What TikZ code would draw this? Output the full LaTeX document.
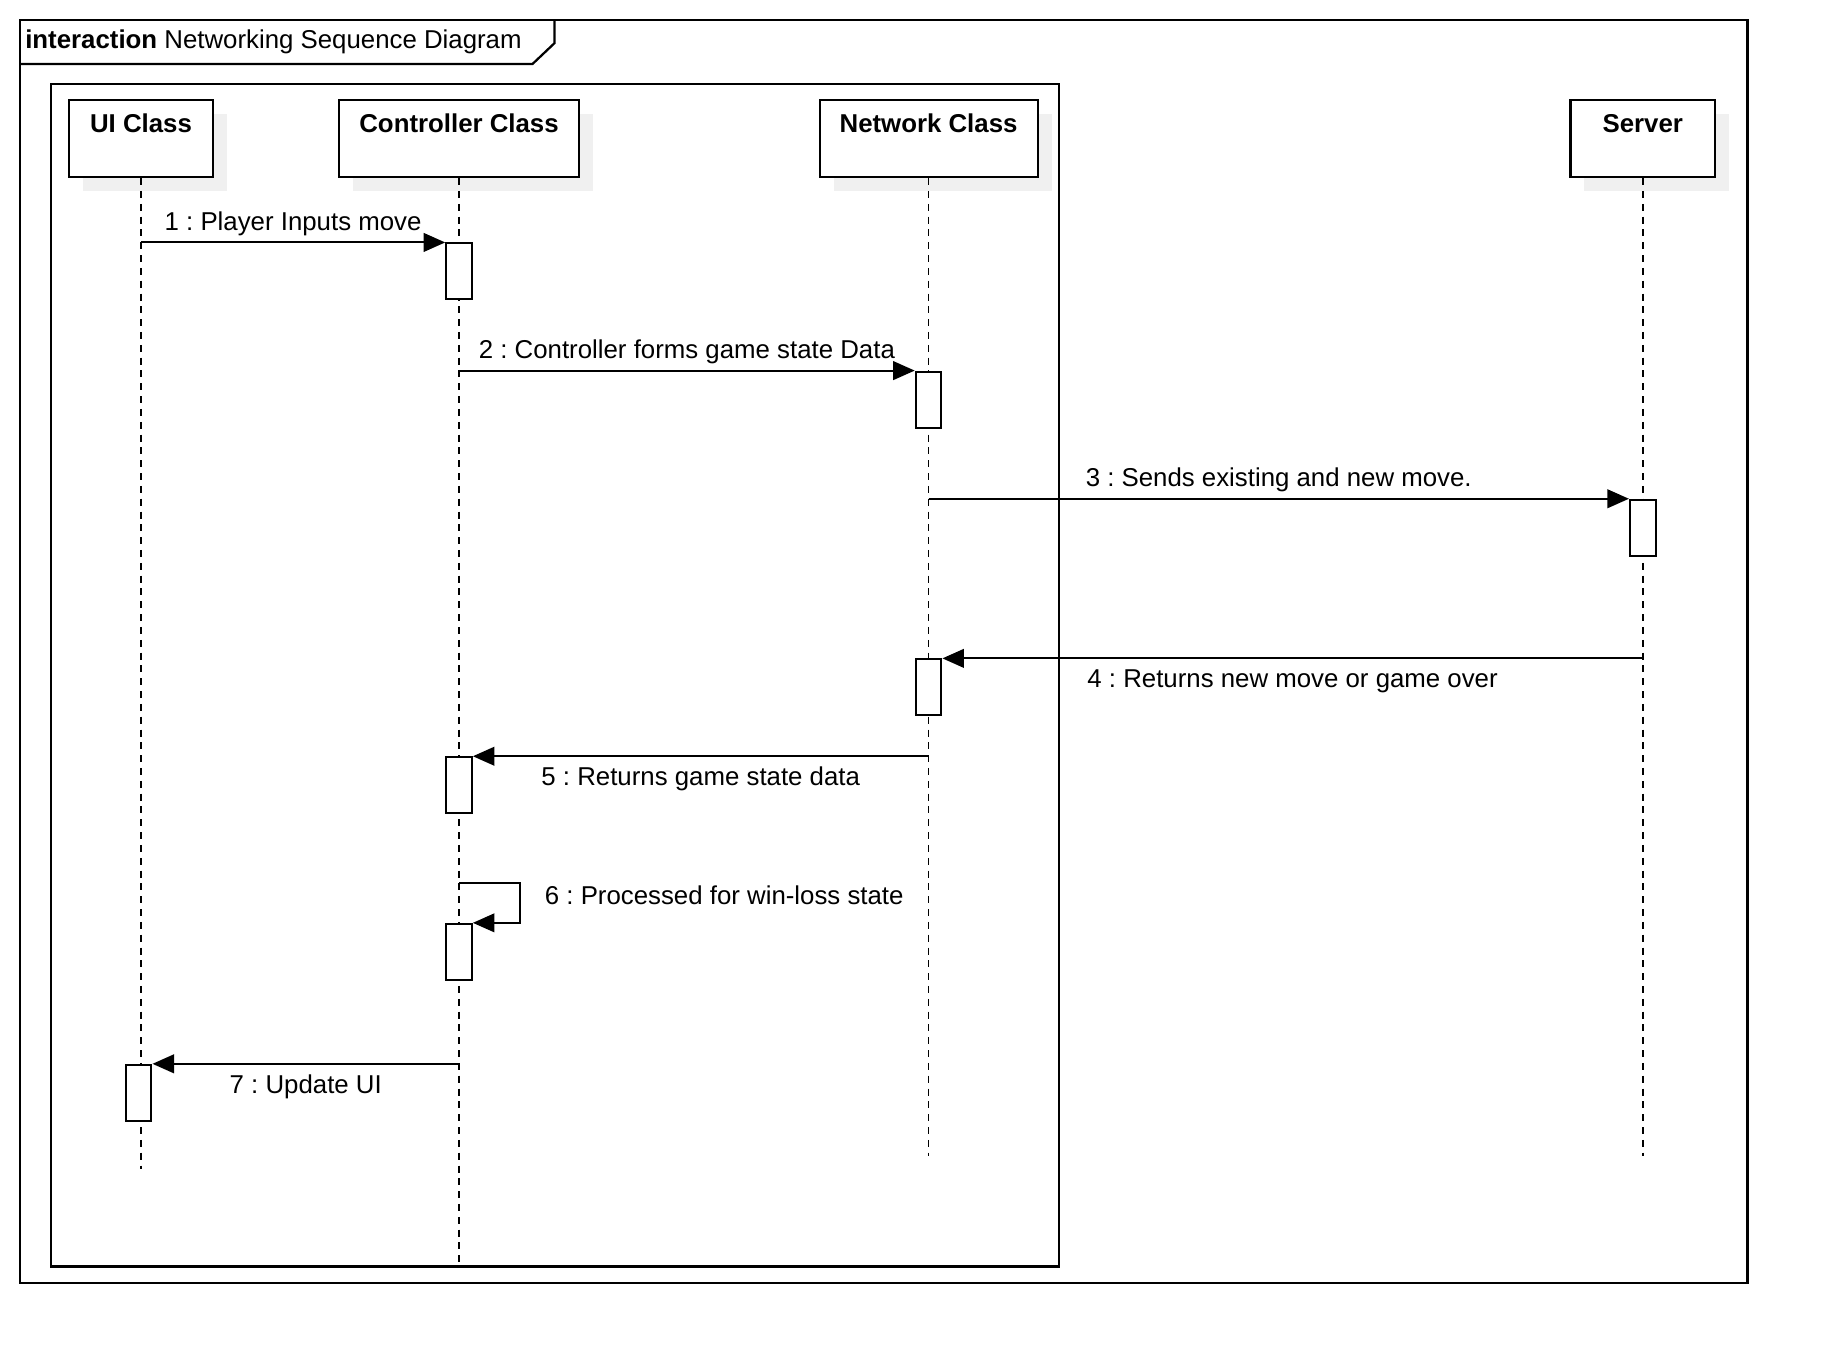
\documentclass[tikz,border=0pt]{standalone}
\usepackage{fontspec}
\setmainfont{Liberation Sans}
\usetikzlibrary{arrows.meta,shadows}
\definecolor{shade}{RGB}{240,240,240}
\frenchspacing
\begin{document}
\begin{tikzpicture}[x=0.01cm,y=-0.01cm,>={Triangle[length=0.185cm,width=0.16cm]},font=\fontsize{6.3}{7.5}\selectfont]
\tikzset{Head/.style={draw,line width=0.5pt,fill=white,inner sep=0pt,text height=0.28cm,text depth=0.38cm,font=\fontsize{6.3}{7.5}\selectfont\bfseries,drop shadow={shadow xshift=0.12cm,shadow yshift=-0.12cm,fill=shade,opacity=1}},
Life/.style={line width=0.45pt,dash pattern=on 0.06cm off 0.05cm},
Act/.style={draw,fill=white,line width=0.5pt,minimum width=0.22cm,minimum height=0.48cm,inner sep=0pt},
Msg/.style={->,line width=0.5pt}}
\useasboundingbox (0,0) rectangle (1569,1171);
\draw[line width=0.55pt] (17,17) rectangle (1500,1101);
\draw[line width=0.55pt] (17,55) -- (457,55) -- (476,37) -- (476,17);
\node[anchor=base west,inner sep=0pt] (title) at (21,42) {\textbf{interaction} Networking Sequence Diagram};
\draw[line width=0.55pt] (44,72) rectangle (909,1087);
\node[Head,minimum width=1.23cm] (ui) at (121,119) {UI Class};
\node[Head,minimum width=2.06cm] (ctrl) at (394,119) {Controller Class};
\node[Head,minimum width=1.87cm] (net) at (797,119) {Network Class};
\node[Head,minimum width=1.24cm] (srv) at (1410,119) {Server};
\coordinate (uiE) at (121,1003); \coordinate (ctrlE) at (394,1083);
\coordinate (netE) at (797,992); \coordinate (srvE) at (1410,992);
\draw[Life] (ui) -- (uiE); \draw[Life] (ctrl) -- (ctrlE);
\draw[Life] (net) -- (netE); \draw[Life] (srv) -- (srvE);
\node[Act] (a1) at (394,233) {}; \node[Act] (a2) at (797,343) {};
\node[Act] (a3) at (1410,453) {}; \node[Act] (a4) at (797,590) {};
\node[Act] (a5) at (394,674) {}; \node[Act] (a6) at (394,817) {};
\node[Act] (a7) at (119,938) {};
\draw[Msg] (ui |- a1.north) -- (a1.north west) node [above=-2pt,midway] {1 : Player Inputs move};
\draw[Msg] (ctrl |- a2.north) -- (a2.north west) node [above=-2pt,midway] {2 : Controller forms game state Data};
\draw[Msg] (net |- a3.north) -- (a3.north west) node [above=-2pt,midway] {3 : Sends existing and new move.};
\draw[Msg] (srv |- a4.north) -- (a4.north east) node [below=-0.9pt,midway] {4 : Returns new move or game over};
\draw[Msg] (net |- a5.north) -- (a5.north east) node [below=-0.9pt,midway] {5 : Returns game state data};
\draw[Msg] (ctrl |- 0,758) -- (446,758) |- (a6.north east);
\node[anchor=base west,inner sep=0pt] (l6) at (467,776) {6 : Processed for win-loss state};
\draw[Msg] (ctrl |- a7.north) -- (a7.north east) node [below=-0.9pt,midway] {7 : Update UI};
\end{tikzpicture}
\end{document}
